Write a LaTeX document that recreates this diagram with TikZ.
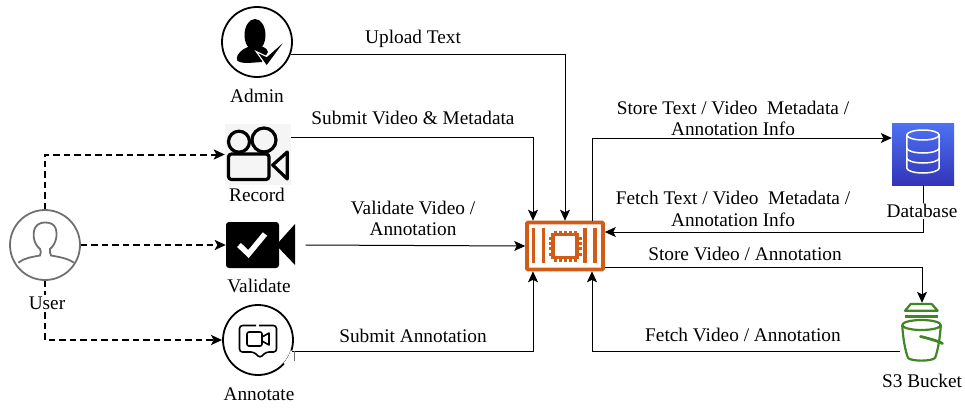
\documentclass[tikz,border=0pt]{standalone}
\usepackage{fontspec}
\setmainfont{Liberation Serif}
\usetikzlibrary{positioning, arrows.meta}
\definecolor{chiporange}{HTML}{D05C17}
\definecolor{bucketgreen}{HTML}{3F8624}
\definecolor{usergray}{HTML}{707070}
\definecolor{dbtop}{HTML}{4D72F3}
\definecolor{dbbottom}{HTML}{3334B9}
\tikzset{
    >={Stealth[length=11pt,width=10pt,inset=2.5pt]}, % arrow heads as in the figure
    flow/.style={->, line width=1pt, black},
    userflow/.style={->, line width=2pt, black, dash pattern=on 6.5pt off 4pt},
    iconround/.style={circle, draw, line width=1.8pt, minimum size=70pt, inner sep=0pt},
    iconbox/.style={rectangle, inner sep=0pt},
    caption/.style={font=\fontsize{19.3}{21}\selectfont, inner sep=1.5pt, fill=white},
    flowtext/.style={font=\fontsize{19.3}{21.5}\selectfont, align=center, inner sep=0pt},
}
\begin{document}
\begin{tikzpicture}[x=1pt, y=-1pt]
    \useasboundingbox (0,0) rectangle (965,407);
    % actors
    \node[iconround] (admin) at (257,42) {};
    \node[iconbox, fill=black!4, minimum width=66pt, minimum height=61pt] (record) at (258,154.5) {};
    \node[iconbox, minimum width=69pt, minimum height=46pt] (validate) at (260.5,245) {};
    \node[iconround] (annotate) at (258,340) {};
    \node[iconround, draw=usergray] (user) at (45,245) {};
    % services
    \node[rectangle, draw=chiporange, line width=3.6pt, rounded corners=1pt, fill=white,
          minimum width=76pt, minimum height=47pt, inner sep=0pt] (chip) at (565,246) {};
    \node[iconbox, top color=dbtop, bottom color=dbbottom,
          minimum width=62pt, minimum height=62pt] (database) at (923,154) {};
    \node[iconbox, minimum width=44pt, minimum height=60pt] (bucket) at (922,333) {};

    % admin icon
    \fill (255,35) ellipse [x radius=10.5, y radius=16];
    \fill (237,60) .. controls (236,53) and (243,49) .. (250,46) -- (261,46)
        .. controls (266,48) and (268,50) .. (268,52) -- (262,62) -- (248,63)
        .. controls (242,63) and (238,62) .. (237,60) -- cycle;
    \filldraw[draw=white, line width=2.5pt, fill=black] (258.3,53.3) -- (266.7,57.3) -- (282.7,43.3) -- (266.7,65) -- cycle;
    \fill (258.3,53.3) -- (266.7,57.3) -- (282.7,43.3) -- (266.7,65) -- cycle;
    % record icon
    \begin{scope}[line width=3.2pt, line join=round]
        \draw (239,141.7) circle [radius=10.5pt];
        \draw (264,140) circle [radius=12pt];
        \draw[rounded corners=3pt, fill=black!4] (228.5,154) rectangle (269,179.5);
        \draw (272.7,165) -- (287.3,152) -- (287.3,179) -- cycle;
    \end{scope}
    % validate icon
    \fill[rounded corners=3pt] (226,222) rectangle (279,268);
    \fill (278,243) -- (295,224) -- (295,265) -- (278,247) -- cycle;
    \draw[white, line width=5.5pt] (239,245) -- (248.5,254) -- (265,234);
    % annotate icon
    \begin{scope}[line width=1.6pt, line join=round]
        \draw[rounded corners=3pt] (256,325.5) -| (239.5,352) -- (254,352) -- (260,358) -- (266,352) -- (276.5,352) |- (259,325.5);
        \draw[rounded corners=2pt] (247,332) rectangle (262,346);
        \draw (262,337) -- (269,333) -- (269,345) -- (262,341);
    \end{scope}
    \draw[white, line width=3pt] (annotate.-42) arc [start angle=-42, end angle=-17, radius=35pt];
    % user icon
    \draw[usergray, line width=1.8pt] (18.3,262.7) .. controls (24,258) and (32,257) .. (40,255.5)
        .. controls (41,252) and (41,251) .. (40,249) .. controls (34,244) and (32,235) .. (35,228)
        .. controls (37,224) and (41,222.5) .. (45,222.5) .. controls (50,222.5) and (54,224) .. (55.5,228)
        .. controls (58,235) and (56,244) .. (50,249) .. controls (50,252) and (50,254) .. (51,255.5)
        .. controls (59,257) and (67,258) .. (74,262.7);
    % chip icon
    \foreach \barx in {533.3,543.3,585,595}
        \fill[chiporange] (\barx-1.8,228.3) rectangle (\barx+1.8,263.3);
    \draw[chiporange, line width=3.2pt] (553,234.5) rectangle (577,257.5);
    \foreach \pin in {0,1,2,3,4}{
        \fill[chiporange] (553.5+\pin*5.2,230.5) rectangle +(3,3);
        \fill[chiporange] (553.5+\pin*5.2,258.5) rectangle +(3,3);
    }
    \foreach \pin in {0,1,2,3}{
        \fill[chiporange] (548.5,237+\pin*5.2) rectangle +(3,3);
        \fill[chiporange] (578.5,237+\pin*5.2) rectangle +(3,3);
    }
    % database icon
    \begin{scope}[white, line width=1.5pt]
        \draw (923,135) ellipse [x radius=16.2, y radius=5];
        \draw (906.8,135) -- (906.8,168) arc [start angle=180, end angle=360, x radius=16.2pt, y radius=5pt] -- (939.2,135);
        \draw (906.8,148) arc [start angle=180, end angle=360, x radius=16.2pt, y radius=5pt];
        \draw (906.8,158) arc [start angle=180, end angle=360, x radius=16.2pt, y radius=5pt];
    \end{scope}
    % bucket icon
    \begin{scope}[bucketgreen, line width=2.2pt, line join=round]
        \draw (905,310.7) -- (910.7,304) -- (931.7,304) -- (937.7,310.7) -- cycle;
        \draw (905,316.5) -- (937.7,316.5);
        \draw (921.5,325) ellipse [x radius=19.3, y radius=5];
        \draw (902.2,325) .. controls (903,338) and (905,350) .. (908,358)
            .. controls (912,361.5) and (931,361.5) .. (935,358) .. controls (938,350) and (940,338) .. (940.8,325);
        \draw[line width=2.8pt, line cap=round] (920.5,336.5) .. controls (927,338) and (938,341) .. (942.5,343.5);
    \end{scope}

    % connectors
    \draw[flow] (admin.-20) -| (chip.north);
    \draw[flow] ([yshift=17.5pt]record.east) -| ([xshift=-32pt]chip.north);
    \draw[flow] ([xshift=10.5pt]validate.east) -- (chip.west);
    \draw[flow] (annotate.-18) -| ([xshift=-32pt]chip.south);
    \draw[line width=0.9pt, usergray] ([xshift=2pt]annotate.-18) -- ++(0,10);
    \draw[flow] ([xshift=27pt]chip.north) |- ([yshift=16pt]database.west);
    \draw[flow] (database.south) |- ([yshift=14pt]chip.east);
    \draw[flow] ([yshift=-21pt]chip.east) -| (bucket.north);
    \draw[flow] ([yshift=-18pt]bucket.west) -| ([xshift=27pt]chip.south);
    \draw[userflow] (user.north) |- (record.west);
    \draw[userflow] (user.east) -- (validate.west);
    \draw[userflow] (user.south) |- (annotate.west);

    % captions
    \node[caption] (adminname) at (257,96) {Admin};
    \node[caption] (recordname) at (257,195) {Record};
    \node[caption] (validatename) at (259,286) {Validate};
    \node[caption] (annotatename) at (259,394) {Annotate};
    \node[caption] (username) at (47,303) {User};
    \node[caption] (databasename) at (922,211) {Database};
    \node[caption] (bucketname) at (922,381) {S3 Bucket};

    % connector labels
    \node[flowtext] (uploadlabel) at (413,39) {Upload Text};
    \node[flowtext] (submitlabel) at (413,118) {Submit Video \& Metadata};
    \node[flowtext] (validatelabel) at (413,218.5) {Validate Video /\\Annotation};
    \node[flowtext] (annotatelabel) at (413,336) {Submit Annotation};
    \node[flowtext] (storelabel) at (733,118.5) {Store Text / Video\ \ Metadata /\\Annotation Info};
    \node[flowtext] (fetchlabel) at (733,209) {Fetch Text / Video\ \ Metadata /\\Annotation Info};
    \node[flowtext] (storevideolabel) at (745,254) {Store Video / Annotation};
    \node[flowtext] (fetchvideolabel) at (743,335) {Fetch Video / Annotation};
\end{tikzpicture}
\end{document}
